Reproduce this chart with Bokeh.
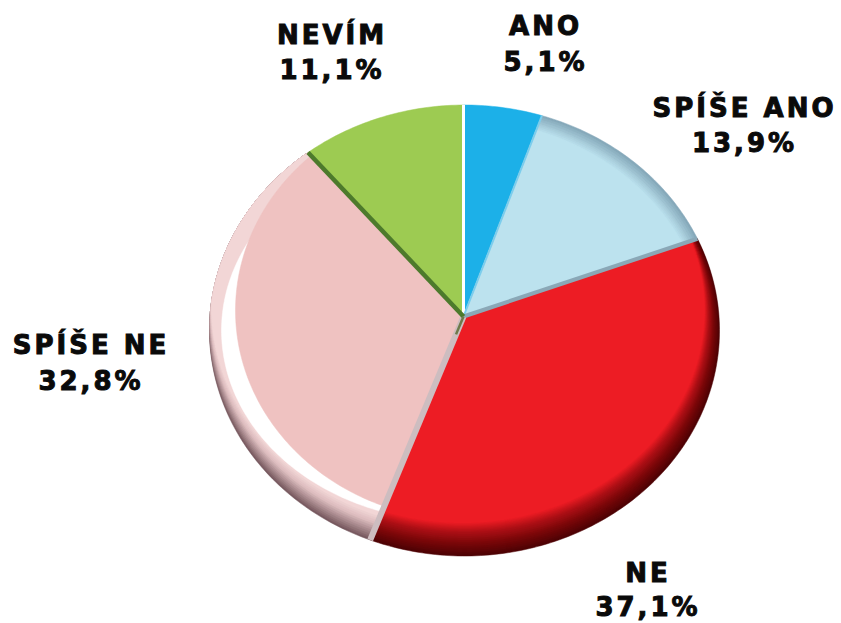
import math
from bokeh.plotting import figure
from bokeh.models import Range1d, ColumnDataSource, InlineStyleSheet
from bokeh.core.properties import value
from bokeh.embed import file_html
from bokeh.resources import INLINE

categories = ["ANO", "SPÍŠE ANO", "NE", "SPÍŠE NE", "NEVÍM"]
shares = [5.1, 13.9, 37.1, 32.8, 11.1]
share_labels = ["5,1%", "13,9%", "37,1%", "32,8%", "11,1%"]

# layout (pixel space of the page photo)
CX, CY, RX, RY = 464.0, 330.0, 255.0, 225.5
HX, HY = 463.0, 316.0
label_x = [545, 744, 647.5, 90.5, 331.5]
label_y1 = [36, 118, 583, 355, 45]
label_y2 = [72, 153, 617, 391, 80]
edge_nudge_deg = [0.7, 1.0, -1.7, 0.0, 0.0]
SPACING = 3.0
BASE_SHIFT = 10.5


def mix(a, b, t):
    ca = [int(a[i:i + 2], 16) for i in (1, 3, 5)]
    cb = [int(b[i:i + 2], 16) for i in (1, 3, 5)]
    return "#%02x%02x%02x" % tuple(round(x + (y - x) * t) for x, y in zip(ca, cb))


def ray_hit(dx, dy, cx, cy, rx, ry):
    ox, oy = (HX - cx) / rx, (HY - cy) / ry
    ax, ay = dx / rx, dy / ry
    a = ax * ax + ay * ay
    b = 2 * (ox * ax + oy * ay)
    c = ox * ox + oy * oy - 1
    return (-b + math.sqrt(max(b * b - 4 * a * c, 0))) / (2 * a)


def direction(theta):
    return math.sin(theta) * RX, -math.cos(theta) * RY


def rim_point(theta, e=(CX, CY, RX, RY)):
    dx, dy = direction(theta)
    t = min(ray_hit(dx, dy, CX, CY, RX, RY), ray_hit(dx, dy, *e))
    return HX + t * dx, HY + t * dy


def wedge(t0, t1, e):
    n = max(int((t1 - t0) * 60), 8)
    pts = [rim_point(t0 + (t1 - t0) * i / n, e) for i in range(n + 1)]
    return [HX] + [p[0] for p in pts], [HY] + [p[1] for p in pts]


total = sum(shares)
edges = [0.0]
running = 0.0
for s, nudge in zip(shares, edge_nudge_deg):
    running += s / total * 2 * math.pi
    edges.append(running + math.radians(nudge))
edges[-1] = 2 * math.pi


def stack(stops, n):
    """stops: (dx, dy, shrink_x, shrink_y, colour) interpolated over n layers"""
    out = []
    for seg in range(len(stops) - 1):
        a, b = stops[seg], stops[seg + 1]
        for i in range(n):
            t = i / n
            out.append((CX + a[0] + (b[0] - a[0]) * t, CY + a[1] + (b[1] - a[1]) * t,
                        RX - a[2] - (b[2] - a[2]) * t, RY - a[3] - (b[3] - a[3]) * t,
                        mix(a[4], b[4], t)))
    last = stops[-1]
    out.append((CX + last[0], CY + last[1], RX - last[2], RY - last[3], last[4]))
    return out


slice_layers = [
    # ANO
    [(CX, CY, RX, RY, "#1cb0e8")],
    # SPÍŠE ANO
    stack([(0, 0, 0, 0, "#86a9ba"), (-4, 5, 3, 3, "#a6cbd9"), (-7, 9, 5, 5, "#bce2ee")], 4),
    # NE
    stack([(0, 0, 0, 0, "#4e0204"), (-1, -7, 5, 5, "#7a0709"), (-1, -14, 10, 10, "#b01016"),
           (-2, -20, 13, 13, "#ed1c24")], 6),
    # SPÍŠE NE
    stack([(0, 0, 0, 0, "#77595f"), (0, -8, 0, 1, "#a98a8e"), (0, -16, 1, 2, "#dcbcbe"),
           (0, -24, 2, 3, "#f2d6d6")], 4)
    + [(456, 330, 235, 191, "#ffffff"), (468, 310, 233, 210, "#efc2c1")],
    # NEVÍM
    [(CX, CY, RX, RY, "#9dcb52")],
]

xs, ys, colors = [], [], []
for i, layers in enumerate(slice_layers):
    for lay in layers:
        x, y = wedge(edges[i], edges[i + 1], lay[:4])
        xs.append(x)
        ys.append(y)
        colors.append(lay[4])

p = figure(width=841, height=623, output_backend="svg", toolbar_location=None,
           x_range=Range1d(0, 841), y_range=Range1d(623, 0), min_border=0,
           margin=(0, 0, 0, 0))
p.axis.visible = False
p.grid.visible = False
p.outline_line_color = None
p.stylesheets = [InlineStyleSheet(css=":host{letter-spacing:%gpx}" % SPACING)]

p.patches("xs", "ys", fill_color="colors", line_color="colors", line_width=0.5,
          source=ColumnDataSource(dict(xs=xs, ys=ys, colors=colors)))

# slice separators
sep_colors = ["#ffffff", "#7ccdec", "#8aa8b7", "#cdbdc0", "#4d7a2c"]
sep_widths = [3, 2, 4, 6, 4.5]
for e, c, w in zip(edges[:5], sep_colors, sep_widths):
    rx_, ry_ = rim_point(e)
    p.line([HX, rx_], [HY, ry_], line_color=c, line_width=w)
rx_, ry_ = rim_point(edges[3])
p.line([HX, HX + (rx_ - HX) * 0.08], [HY, HY + (ry_ - HY) * 0.08], line_color="#6d7a4a", line_width=2.5)

font = value("DejaVu Sans")


def centred(xs_, texts):
    return [x - SPACING * len(t) / 2 for x, t in zip(xs_, texts)]


p.text(centred(label_x, categories), [y - BASE_SHIFT for y in label_y1], text=categories,
       text_font=font, text_font_style="bold", text_font_size="26px", text_align="center",
       text_baseline="alphabetic", text_color="#0a0a0a", text_outline_color="#0a0a0a")
p.text(centred(label_x, share_labels), [y - BASE_SHIFT for y in label_y2], text=share_labels,
       text_font=font, text_font_style="bold", text_font_size="26px", text_align="center",
       text_baseline="alphabetic", text_color="#0a0a0a", text_outline_color="#0a0a0a")

open("out.html", "w").write(file_html(p, INLINE))
